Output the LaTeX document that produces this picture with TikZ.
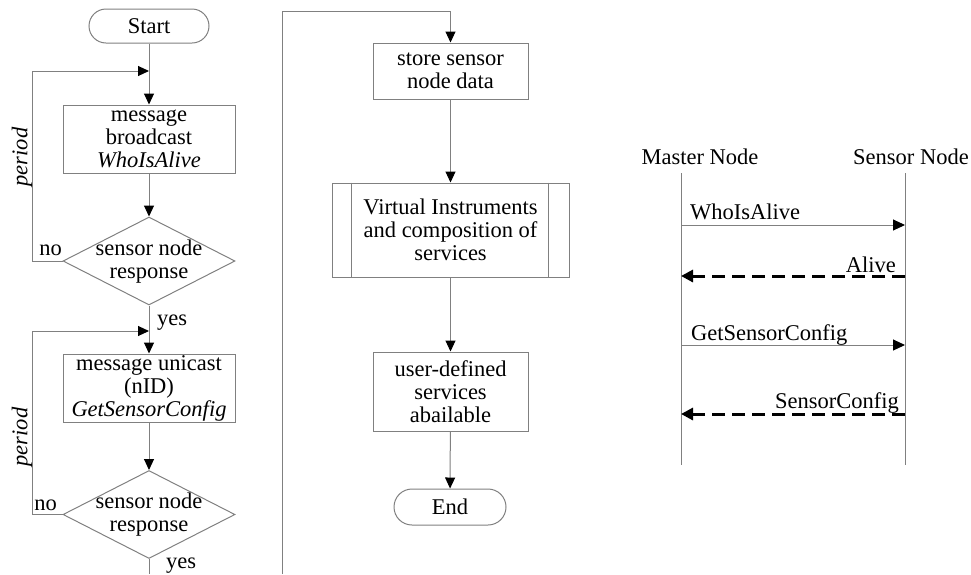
\documentclass[tikz,border=0pt]{standalone}
\usepackage{fontspec}
\setmainfont{Liberation Serif}
\usetikzlibrary{arrows.meta,shapes.geometric}
\definecolor{edge}{RGB}{128,128,128}
\begin{document}
\begin{tikzpicture}[x=1pt,y=-1pt,
  font=\fontsize{22.5}{23}\selectfont,
  box/.style={draw=edge, line width=1pt, align=center, inner sep=0pt},
  term/.style={draw=edge, line width=1pt, rounded corners=17pt, inner sep=0pt},
  dia/.style={draw=edge, line width=1pt, diamond, inner sep=0pt, minimum width=172pt, minimum height=88pt},
  line/.style={draw=edge, line width=1pt},
  arr/.style={line, -{Triangle[length=11pt,width=10pt,black]}},
  msg/.style={line, -{Triangle[length=12pt,width=11pt,black]}},
  reply/.style={draw=black, line width=3pt, dash pattern=on 13pt off 7pt, -{Triangle[length=12pt,width=12pt,black]}},
  lbl/.style={inner sep=0pt}
]
\useasboundingbox (0,0) rectangle (971,574);

% ---- left column: discovery loops ----
\node[term, minimum width=120pt, minimum height=34pt] (start) at (149,26) {Start};
\node[box, minimum width=172pt, minimum height=68pt] (b1) at (149,139) {message\\broadcast\\\textit{WhoIsAlive}};
\node[dia] (d1) at (149,261) {};
\node[align=center, inner sep=0pt] (d1t) at (149,262) {sensor node\\response};
\node[box, minimum width=172pt, minimum height=68pt] (b2) at (149,388) {message unicast\\(nID)\\\textit{GetSensorConfig}};
\node[dia] (d2) at (149,514.5) {};
\node[align=center, inner sep=0pt] (d2t) at (149,515) {sensor node\\response};

\coordinate (j1) at (149,71);
\coordinate (l1) at (32,71);
\coordinate (j2) at (149,331);
\coordinate (l2) at (32,331);
\coordinate (o1) at (149,574);

\draw[arr] (start) -- (b1);
\draw[arr] (b1) -- (d1);
\draw[arr] (d1) -- (b2);
\draw[arr] (b2) -- (d2);
\draw[line] (d2.south) -- (o1);
\draw[arr] (d1.west) -| (l1) -- (j1);
\draw[arr] (d2.west) -| (l2) -- (j2);

\node[lbl, anchor=base east] (no1) at (62,255) {no};
\node[lbl, anchor=base east] (no2) at (57,510) {no};
\node[lbl, anchor=base west] (yes1) at (157,325) {yes};
\node[lbl, anchor=base west] (yes2) at (166,568) {yes};
\node[lbl, rotate=90, font=\fontsize{22.5}{23}\selectfont\itshape] (p1) at (22,157) {period};
\node[lbl, rotate=90, font=\fontsize{22.5}{23}\selectfont\itshape] (p2) at (22,437) {period};

% ---- middle column: configuration and services ----
\node[box, minimum width=155pt, minimum height=56pt] (store) at (450.5,71) {store sensor\\node data};
\node[box, minimum width=237pt, minimum height=94pt] (vi) at (450.5,230) {Virtual Instruments\\and composition of\\services};
\draw[line] ([xshift=20pt]vi.north west) -- ([xshift=20pt]vi.south west);
\draw[line] ([xshift=-21pt]vi.north east) -- ([xshift=-21pt]vi.south east);
\node[box, minimum width=155pt, minimum height=79pt] (user) at (450.5,391.5) {user-defined\\services\\abailable};
\node[term, rounded corners=18pt, minimum width=112pt, minimum height=36pt] (end) at (450,507) {End};

\coordinate (o2) at (282,574);
\coordinate (t2) at (282,11);
\draw[arr] (o2) -- (t2) -| (store);
\draw[arr] (store) -- (vi);
\draw[arr] (vi) -- (user);
\draw[arr] (user) -- (end);

% ---- right: message sequence ----
\node[lbl, anchor=base] (mn) at (700,164) {Master Node};
\node[lbl, anchor=base] (sn) at (911,164) {Sensor Node};
\coordinate (mt) at (681,173);
\coordinate (mb) at (681,465);
\coordinate (st) at (905,173);
\coordinate (sb) at (905,465);
\draw[line] (mt) -- (mb);
\draw[line] (st) -- (sb);

\coordinate (m1) at (681,225); \coordinate (s1) at (905,225);
\coordinate (m2) at (681,276); \coordinate (s2) at (905,276);
\coordinate (m3) at (681,345); \coordinate (s3) at (905,345);
\coordinate (m4) at (681,414); \coordinate (s4) at (905,414);

\draw[msg] (m1) -- (s1);
\draw[reply] (s2) -- (m2);
\draw[msg] (m3) -- (s3);
\draw[reply] (s4) -- (m4);

\node[lbl, anchor=base west] (w1) at (690,219) {WhoIsAlive};
\node[lbl, anchor=base east] (w2) at (896,272) {Alive};
\node[lbl, anchor=base west] (w3) at (691,340) {GetSensorConfig};
\node[lbl, anchor=base east] (w4) at (899,408) {SensorConfig};
\end{tikzpicture}
\end{document}
